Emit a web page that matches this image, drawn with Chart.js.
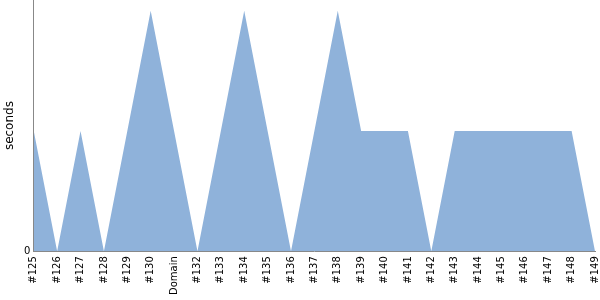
<!DOCTYPE html>
<html>
<head>
<meta charset="utf-8">
<script src="https://cdn.jsdelivr.net/npm/chart.js@4"></script>
<style>
  html, body { margin: 0; padding: 0; background: #fff; }
  #wrap { width: 600px; height: 300px; }
</style>
</head>
<body>
<div id="wrap"><canvas id="chart"></canvas></div>
<script>
// ビルド番号ごとの所要時間
const labels = ['#125', '#126', '#127', '#128', '#129', '#130', 'Domain', '#132', '#133', '#134',
                '#135', '#136', '#137', '#138', '#139', '#140', '#141', '#142', '#143', '#144',
                '#145', '#146', '#147', '#148', '#149'];
const seconds = [1, 0, 1, 0, 1, 2, 1, 0, 1, 2,
                 1, 0, 1, 2, 1, 1, 1, 0, 1, 1,
                 1, 1, 1, 1, 0];

const ctx = document.getElementById('chart').getContext('2d');

new Chart(ctx, {
    type: 'line',
    data: {
        labels: labels,
        datasets: [{
            label: 'seconds',
            data: seconds,
            borderColor: 'rgba(143, 178, 218, 1)',
            backgroundColor: 'rgba(143, 178, 218, 1)',
            borderWidth: 0,
            pointRadius: 0,
            fill: 'origin',
            tension: 0
        }]
    },
    options: {
        responsive: true,
        maintainAspectRatio: false,
        animation: false,
        layout: { padding: 0 },
        plugins: {
            legend: { display: false },
            tooltip: { enabled: false }
        },
        scales: {
            x: {
                grid: { display: false, drawTicks: false },
                border: { display: true, color: '#888' },
                afterFit: (axis) => { axis.paddingLeft = 0; axis.paddingRight = 5; },
                ticks: {
                    color: '#000',
                    font: { family: 'DejaVu Sans', size: 10 },
                    maxRotation: 90,
                    minRotation: 90,
                    autoSkip: false,
                    padding: 5
                }
            },
            y: {
                min: 0,
                max: 2.09,
                grid: { display: false, drawTicks: false },
                border: { display: true, color: '#888' },
                afterBuildTicks: (axis) => { axis.ticks = [{ value: 0 }]; },
                afterFit: (axis) => { axis.paddingTop = 0; },
                ticks: {
                    color: '#000',
                    font: { family: 'DejaVu Sans', size: 10 },
                    padding: 3.5
                },
                title: {
                    display: true,
                    text: 'seconds',
                    color: '#000',
                    font: { family: 'DejaVu Sans', size: 12 },
                    padding: 3
                }
            }
        }
    }
});
</script>
</body>
</html>
